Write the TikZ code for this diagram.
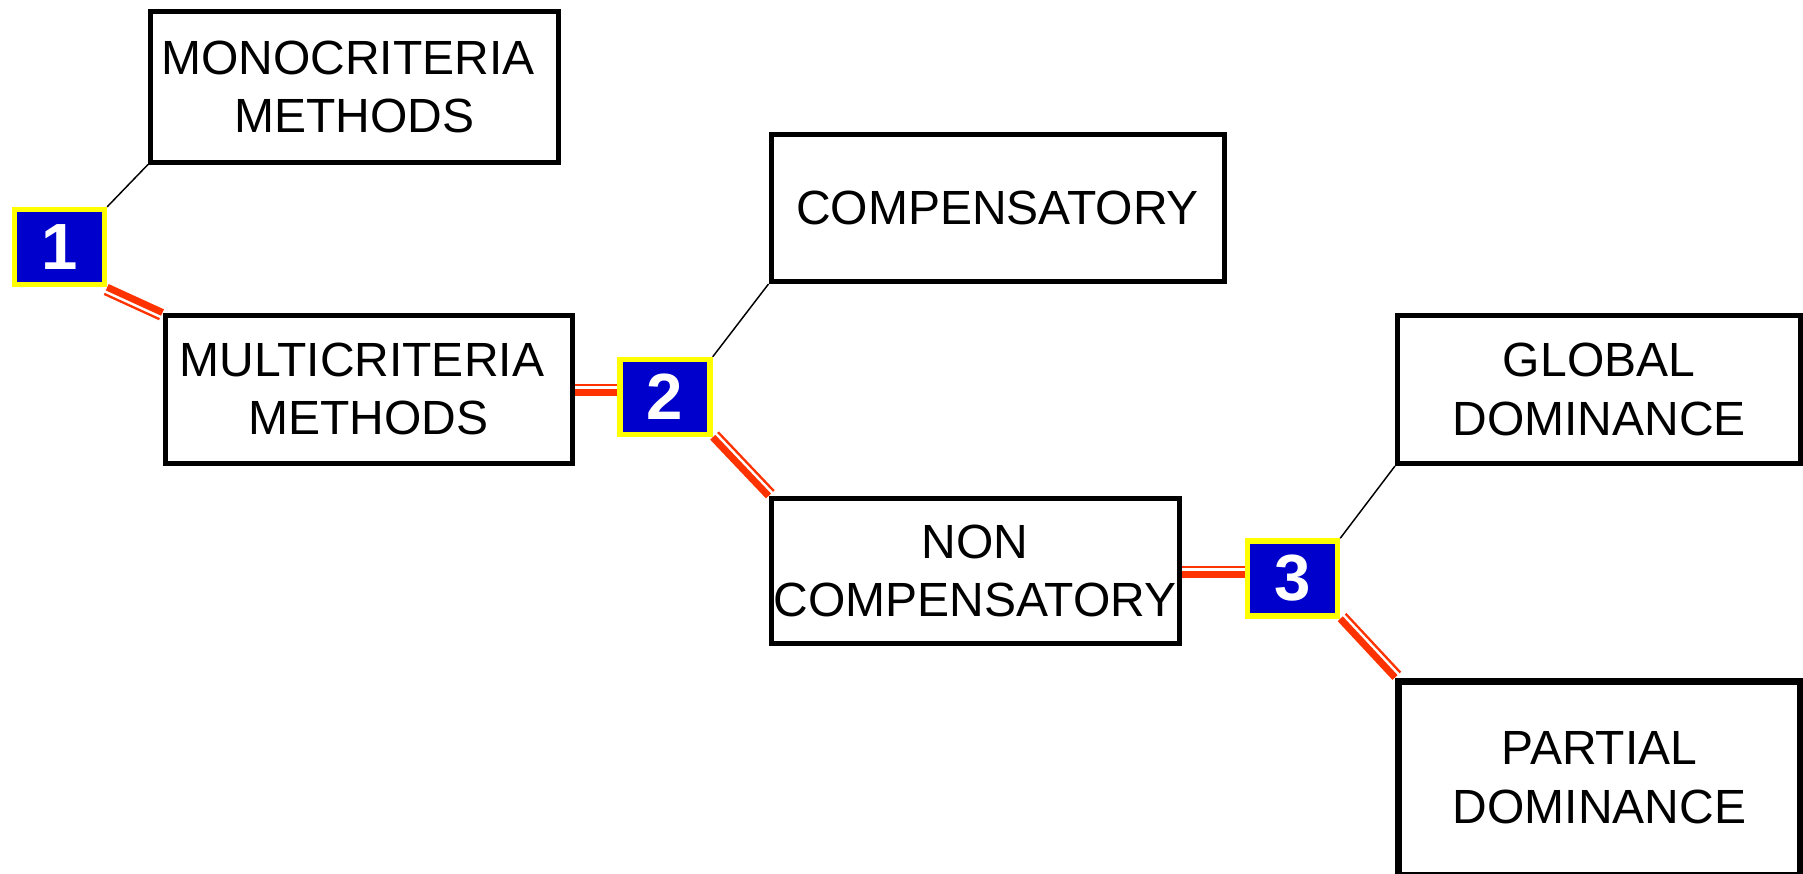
\documentclass[tikz,border=0pt]{standalone}
\usepackage{fontspec}
\setmainfont{Liberation Sans}
\usetikzlibrary{calc,backgrounds}
\definecolor{redline}{RGB}{255,51,0}
\definecolor{numblue}{RGB}{0,0,204}
\definecolor{numyellow}{RGB}{255,255,0}
\tikzset{
  textbox/.style={draw=black, line width=3.75pt, fill=white, rectangle, inner sep=0pt, align=center, font=\fontsize{36}{44}\selectfont},
  numbox/.style={draw=numyellow, fill=numblue, line width=4.1pt, minimum width=67.5pt, minimum height=56.25pt, inner sep=0pt, text=white, font=\fontsize{49}{55}\selectfont\bfseries},
  thinlink/.style={draw=black, line width=1.1pt},
  redthick/.style={draw=redline, line width=5.25pt},
  redthin/.style={draw=redline, line width=1.75pt},
}
\begin{document}
\begin{tikzpicture}[x=0.75pt,y=-0.75pt]
\useasboundingbox (0,0) rectangle (1803,874);
% text boxes
\node[textbox, minimum width=306pt, minimum height=112.5pt] (mono) at (354.5,87) {MONOCRITERIA\hspace*{0.28em}\\METHODS};
\node[textbox, minimum width=305.25pt, minimum height=111pt] (multi) at (368.5,389) {MULTICRITERIA\hspace*{0.28em}\\METHODS};
\node[textbox, minimum width=339.75pt, minimum height=110.25pt] (comp) at (997.5,208) {COMPENSATORY};
\node[textbox, minimum width=306pt, minimum height=108.75pt] (non) at (975,571) {NON\\COMPENSATORY};
\node[textbox, minimum width=302.25pt, minimum height=111pt] (global) at (1599,389.5) {GLOBAL\\DOMINANCE};
\node[textbox, line width=5.25pt, minimum width=301.5pt, minimum height=145.5pt] (partial) at (1599.5,778) {PARTIAL\\DOMINANCE};
% numbered boxes
\node[numbox] (n1) at (59.5,247) {1};
\node[numbox] (n2) at (665,397) {2};
\node[numbox] (n3) at (1292.5,578.5) {3};
% connectors
\begin{pgfonlayer}{background}
\draw[thinlink] (n1.north east) -- (mono.south west);
\draw[thinlink] (n2.north east) -- (comp.south west);
\draw[thinlink] (n3.north east) -- (global.south west);
% 1 -> multi
\draw[redthick] (n1.south east) -- (multi.north west);
\draw[redthin] ($(n1.south east)!5.5pt!-90:(multi.north west)$) -- ($(multi.north west)!5.5pt!90:(n1.south east)$);
% multi -> 2
\coordinate (a1) at ($(multi.east)+(0,3.5)$);
\coordinate (a2) at (a1 -| n2.west);
\draw[redthick] (a1) -- (a2);
\draw[redthin] ($(a1)!5.5pt!90:(a2)$) -- ($(a2)!5.5pt!-90:(a1)$);
% 2 -> non
\draw[redthick] (n2.south east) -- (non.north west);
\draw[redthin] ($(n2.south east)!5.5pt!90:(non.north west)$) -- ($(non.north west)!5.5pt!-90:(n2.south east)$);
% non -> 3
\coordinate (b1) at ($(non.east)+(0,3)$);
\coordinate (b2) at (b1 -| n3.west);
\draw[redthick] (b1) -- (b2);
\draw[redthin] ($(b1)!5.5pt!90:(b2)$) -- ($(b2)!5.5pt!-90:(b1)$);
% 3 -> partial
\draw[redthick] (n3.south east) -- (partial.north west);
\draw[redthin] ($(n3.south east)!5.5pt!90:(partial.north west)$) -- ($(partial.north west)!5.5pt!-90:(n3.south east)$);
\end{pgfonlayer}
\end{tikzpicture}
\end{document}
